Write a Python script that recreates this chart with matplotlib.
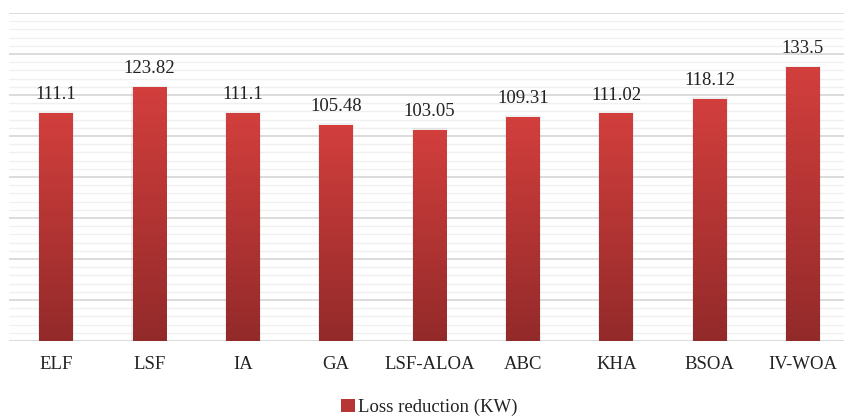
import numpy as np
import matplotlib
matplotlib.use("Agg")
import matplotlib.pyplot as plt
from matplotlib.colors import LinearSegmentedColormap
from matplotlib.ticker import MultipleLocator
from matplotlib.patches import Rectangle

# dados
metodos = ["ELF", "LSF", "IA", "GA", "LSF-ALOA", "ABC", "KHA", "BSOA", "IV-WOA"]
reducao = [111.1, 123.82, 111.1, 105.48, 103.05, 109.31, 111.02, 118.12, 133.5]
rotulos = ["111.1", "123.82", "111.1", "105.48", "103.05", "109.31", "111.02", "118.12", "133.5"]
serie = "Loss reduction (KW)"

plt.rcParams["font.family"] = ["Liberation Serif", "DejaVu Serif"]

fig = plt.figure(figsize=(8.44, 4.18), dpi=100)
# eixo passa um pouco da borda direita, como no original
ax = fig.add_axes([9.3 / 844, 77 / 418, 840.4 / 844, 328 / 418])

cmap = LinearSegmentedColormap.from_list("verm", ["#932a2a", "#d23f3d"])
grad = np.linspace(0, 1, 256).reshape(-1, 1)
largura = 0.36

x = np.arange(len(metodos))
barras = ax.bar(x, reducao, width=largura, color="none", zorder=3)
for b in barras:
    x0, y0 = b.get_x(), b.get_y()
    w, h = b.get_width(), b.get_height()
    img = ax.imshow(grad, cmap=cmap, origin="lower", aspect="auto",
                    extent=[x0, x0 + w, y0, y0 + h], zorder=3)
    img.set_clip_path(b)
    # sombra suave
    ax.add_patch(Rectangle((x0 - 0.012, y0), w + 0.024, h + 0.8, facecolor="#000000",
                           alpha=0.06, edgecolor="none", zorder=2))

for xi, v, t in zip(x, reducao, rotulos):
    ax.annotate(t, (xi, v), xytext=(0, 10), textcoords="offset points",
                ha="center", va="baseline", fontsize=13.5, color="#222222")

ax.set_xlim(-0.5, len(metodos) - 0.5)
ax.set_ylim(0, 160)
ax.yaxis.set_major_locator(MultipleLocator(20))
ax.yaxis.set_minor_locator(MultipleLocator(4))
ax.grid(axis="y", which="major", color="#d9d9d9", lw=1.3, zorder=0)
ax.grid(axis="y", which="minor", color="#f0f0f0", lw=1.0, zorder=0)
ax.set_axisbelow(True)
for s in ax.spines.values():
    s.set_visible(False)
ax.tick_params(axis="y", which="both", left=False, labelleft=False)
ax.tick_params(axis="x", length=0, pad=11, labelsize=13.5, labelcolor="#222222")
ax.set_xticks(x)
ax.set_xticklabels(metodos)

handle = Rectangle((0, 0), 1, 1, facecolor="#b83535", edgecolor="none")
fig.legend([handle], [serie], loc="lower center", bbox_to_anchor=(429.5 / 844, 0.0),
           frameon=False, fontsize=13.5, handlelength=0.75, handleheight=0.75,
           handletextpad=0.15, labelcolor="#222222", borderpad=0.1, borderaxespad=0)

fig.savefig("out.png", dpi=100)
